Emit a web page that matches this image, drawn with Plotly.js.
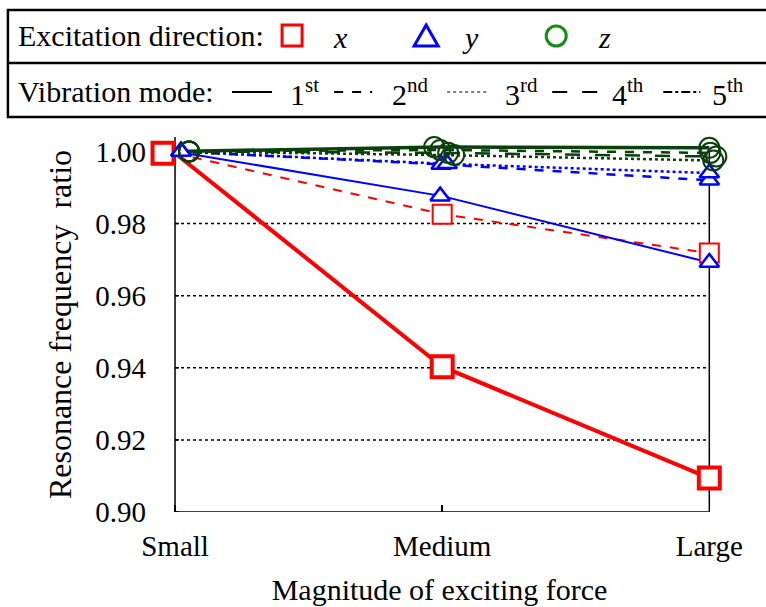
<!DOCTYPE html>
<html>
<head>
<meta charset="utf-8">
<script src="https://cdn.plot.ly/plotly-3.0.1.min.js"></script>
<style>html,body{margin:0;padding:0;background:#fff;}#chart{width:766px;height:607px;}</style>
</head>
<body>
<div id="chart"></div>
<script>
// ---- data ----
const categories = ['Small', 'Medium', 'Large'];
const yTickVals = [0.90, 0.92, 0.94, 0.96, 0.98, 1.00];
const yTickText = ['0.90', '0.92', '0.94', '0.96', '0.98', '1.00'];
const gridVals = [0.92, 0.94, 0.96, 0.98];
// excitation x (red squares)
const xMode1 = [0.9995, 0.9403, 0.9094];
const xMode2 = [0.9995, 0.9826, 0.9718];
// excitation y (blue triangles)
const yMode1 = [1.0000, 0.9876, 0.9692];
const yMode2 = [1.0000, 0.9964, 0.9920];
const yMode3 = [1.0000, 0.9966, 0.9940];
// excitation z (green circles)
const zMode1 = [1.0000, 1.0012, 1.0010];
const zMode2 = [1.0000, 1.0004, 0.9996];
const zMode3 = [1.0000, 0.9990, 0.9975];
const zMode4 = [1.0000, 0.9996, 0.9986];

// ---- layout geometry ----
const W = 766, H = 607;
const XR = [-0.06, 2.04];
const unitPx = 267;
const M = {l: Math.round(175 + XR[0] * unitPx), t: 137, b: 95};
const pw = (XR[1] - XR[0]) * unitPx;
M.r = W - M.l - pw;
const ph = H - M.t - M.b;
const pxX = x => (x - M.l) / pw;
const pxY = y => (H - M.b - y) / ph;

const RED = '#ff0000', BLUE = '#0000ff', GREEN = '#0a400a', LGREEN = '#158a15';
const FONT = 'Liberation Serif, Times New Roman, serif';

const xIdx = categories.map((c, i) => i);
const xFirst = xIdx[0], xLast = xIdx[xIdx.length - 1];

function lineTrace(vals, color, width, dash) {
  return {x: xIdx, y: vals, mode: 'lines', type: 'scatter', hoverinfo: 'skip',
    line: {color: color, width: width, dash: dash}, showlegend: false};
}
function markerTrace(vals, nudge, symbol, size, color, lw, fill) {
  return {x: xIdx.map((v, i) => v + nudge[i] / unitPx), y: vals, mode: 'markers', type: 'scatter',
    cliponaxis: false, hoverinfo: 'skip', showlegend: false,
    marker: {symbol: symbol, size: size, color: fill, line: {color: color, width: lw}}};
}

const traces = [
  lineTrace(xMode2, RED, 2, 'dash'),
  lineTrace(xMode1, RED, 4, 'solid'),
  lineTrace(yMode1, BLUE, 2, 'solid'),
  lineTrace(yMode2, BLUE, 2.5, 'dash'),
  lineTrace(yMode3, BLUE, 2.5, 'dot'),
  lineTrace(zMode3, GREEN, 2.5, 'dot'),
  lineTrace(zMode4, GREEN, 2.5, 'longdash'),
  lineTrace(zMode2, GREEN, 2.5, 'dash'),
  lineTrace(zMode1, GREEN, 3.5, 'solid'),
  markerTrace(xMode2, [-12, 0, 0], 'square', 19, RED, 2, '#ffffff'),
  markerTrace(xMode1, [-12, 0, 0], 'square', 21, RED, 4, '#ffffff'),
  markerTrace(yMode1, [6, -2, 0], 'triangle-up', 17, BLUE, 2.5, '#ffffff'),
  markerTrace(yMode2, [6, -1, 0], 'triangle-up', 17, BLUE, 2.5, '#ffffff'),
  markerTrace(yMode3, [6, 5, 0], 'triangle-up', 17, BLUE, 2.5, '#ffffff'),
  markerTrace(zMode1, [14, -8, 0], 'circle-open', 20, GREEN, 2, GREEN),
  markerTrace(zMode2, [14, -2, 1], 'circle-open', 20, GREEN, 2, GREEN),
  markerTrace(zMode4, [14, 6, 7], 'circle-open', 20, GREEN, 2, GREEN),
  markerTrace(zMode3, [14, 12, 4], 'circle-open', 20, GREEN, 2, GREEN)
];

// ---- frame, grid and ticks drawn in data coordinates ----
const shapes = [];
gridVals.forEach(v => shapes.push({type: 'line', xref: 'x', yref: 'y', x0: xFirst, x1: xLast, y0: v, y1: v,
  line: {color: '#000', width: 1.5, dash: 'dot'}, layer: 'below'}));
yTickVals.forEach(v => shapes.push({type: 'line', xref: 'x', yref: 'y', x0: xFirst, x1: xFirst + 4 / unitPx, y0: v, y1: v,
  line: {color: '#000', width: 1.5}, layer: 'below'}));
shapes.push({type: 'line', xref: 'x', yref: 'y', x0: xFirst, x1: xFirst, y0: yTickVals[0], y1: 1.004,
  line: {color: '#000', width: 1.5}, layer: 'below'});
shapes.push({type: 'line', xref: 'x', yref: 'y', x0: xLast, x1: xLast, y0: yTickVals[0], y1: yTickVals[yTickVals.length - 1],
  line: {color: '#000', width: 1.5}, layer: 'below'});
shapes.push({type: 'line', xref: 'x', yref: 'y', x0: xFirst, x1: xLast, y0: yTickVals[0], y1: yTickVals[0],
  line: {color: '#000', width: 1.5}, layer: 'below'});

// ---- custom legend (two boxed rows) ----
shapes.push(
  {type: 'rect', xref: 'paper', yref: 'paper', x0: pxX(8), x1: pxX(790), y0: pxY(10), y1: pxY(117),
    line: {color: '#000', width: 2.5}, fillcolor: 'rgba(0,0,0,0)', layer: 'above'},
  {type: 'line', xref: 'paper', yref: 'paper', x0: pxX(8), x1: pxX(790), y0: pxY(63), y1: pxY(63),
    line: {color: '#000', width: 2.5}, layer: 'above'},
  {type: 'rect', xref: 'paper', yref: 'paper', x0: pxX(282), x1: pxX(302), y0: pxY(25), y1: pxY(46),
    line: {color: RED, width: 3}, fillcolor: '#fff'},
  {type: 'path', xref: 'paper', yref: 'paper',
    path: 'M ' + pxX(426) + ' ' + pxY(25) + ' L ' + pxX(438) + ' ' + pxY(46) + ' L ' + pxX(414) + ' ' + pxY(46) + ' Z',
    line: {color: BLUE, width: 3}, fillcolor: '#fff'},
  {type: 'circle', xref: 'paper', yref: 'paper', x0: pxX(546), x1: pxX(566), y0: pxY(26), y1: pxY(46),
    line: {color: LGREEN, width: 3}, fillcolor: 'rgba(0,0,0,0)'}
);
const modeSamples = [[232, 272, 'solid'], [334, 372, 'dash'], [447, 487, 'dot'], [552, 598, 'longdash'], [663, 700, 'dashdot']];
modeSamples.forEach(s => shapes.push({type: 'line', xref: 'paper', yref: 'paper', x0: pxX(s[0]), x1: pxX(s[1]),
  y0: pxY(92), y1: pxY(92), line: {color: '#000', width: s[2] === 'dot' ? 1.2 : 2, dash: s[2]}}));

function ann(text, x, y, anchor, extra) {
  return Object.assign({text: text, xref: 'paper', yref: 'paper', x: pxX(x), y: pxY(y), xanchor: anchor, yanchor: 'middle',
    showarrow: false, font: {family: FONT, size: 30, color: '#000'}}, extra || {});
}
const annotations = [
  ann('Excitation direction:', 16, 36, 'left'),
  ann('<i>x</i>', 340, 37, 'center'),
  ann('<i>y</i>', 470, 37, 'center'),
  ann('<i>z</i>', 604, 37, 'center'),
  ann('Vibration mode:', 16, 92, 'left'),
  ann('1<sup>st</sup>', 288, 92, 'left'),
  ann('2<sup>nd</sup>', 390, 92, 'left'),
  ann('3<sup>rd</sup>', 503, 92, 'left'),
  ann('4<sup>th</sup>', 610, 92, 'left'),
  ann('5<sup>th</sup>', 710, 92, 'left')
];

const layout = {
  width: W, height: H, margin: M, paper_bgcolor: '#fff', plot_bgcolor: '#fff', showlegend: false,
  font: {family: FONT, color: '#000', size: 29},
  xaxis: {range: XR, tickmode: 'array', tickvals: xIdx, ticktext: categories, ticks: 'inside', ticklen: 7,
    tickwidth: 1.5, tickcolor: '#000', showline: false, showgrid: false,
    zeroline: false, ticklabelstandoff: 14, tickfont: {family: FONT, size: 29},
    title: {text: 'Magnitude of exciting force', font: {family: FONT, size: 30}, standoff: 17}},
  yaxis: {range: [0.90, 1.004], tickmode: 'array', tickvals: yTickVals, ticktext: yTickText, ticks: '',
    showline: false, showgrid: false, zeroline: false,
    ticklabelstandoff: 12, tickfont: {family: FONT, size: 29},
    title: {text: 'Resonance frequency&nbsp; ratio', font: {family: FONT, size: 32}, standoff: 14}},
  shapes: shapes, annotations: annotations
};

Plotly.newPlot('chart', traces, layout, {staticPlot: true, displayModeBar: false});
</script>
</body>
</html>
